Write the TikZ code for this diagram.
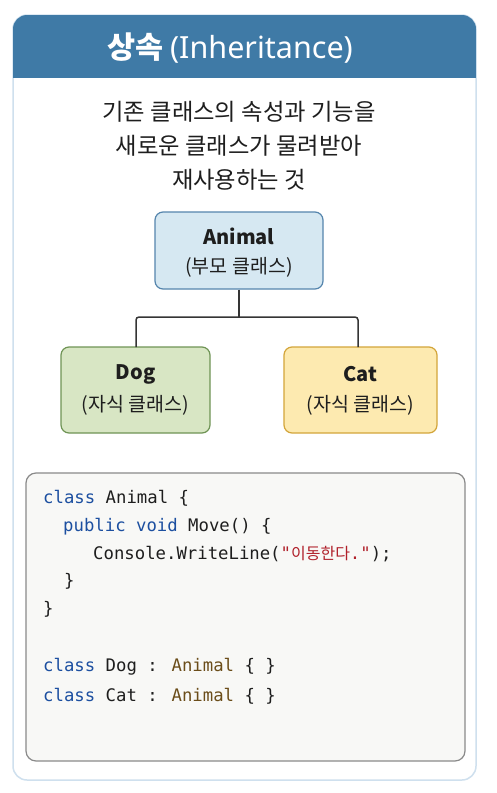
\documentclass[tikz,border=0pt]{standalone}
\usepackage{fontspec}
\setmainfont{Noto Sans CJK KR}
\newfontfamily\codefont{DejaVu Sans Mono}
\newfontfamily\krfont{Noto Sans CJK KR}
\newfontfamily\latfont{Noto Sans}
\definecolor{hdrblue}{HTML}{3F7AA6}
\definecolor{cardedge}{HTML}{CFE0EE}
\definecolor{txtdark}{HTML}{1E1E1E}
\definecolor{afill}{HTML}{D6E8F2}
\definecolor{aedge}{HTML}{5585AD}
\definecolor{dfill}{HTML}{D8E6C4}
\definecolor{dedge}{HTML}{6F9455}
\definecolor{cfill}{HTML}{FDEAB0}
\definecolor{cedge}{HTML}{D3A53A}
\definecolor{codebg}{HTML}{F8F8F6}
\definecolor{codeedge}{HTML}{8A8A8A}
\definecolor{kw}{HTML}{1C4FA0}
\definecolor{typ}{HTML}{6B4D1A}
\definecolor{strc}{HTML}{B0202A}
\begin{document}
\begin{tikzpicture}[x=1pt,y=-1pt,
  classbox/.style={draw, line width=1.2pt, rounded corners=8pt, inner sep=0pt},
  conn/.style={draw=txtdark!90, line width=1.5pt, rounded corners=3pt},
  boxtitle/.style={font=\bfseries\fontsize{20}{24}\selectfont, text=txtdark},
  boxsub/.style={font=\fontsize{19.5}{23}\selectfont, text=txtdark},
  subtxt/.style={font=\fontsize{23.3}{28}\selectfont, text=txtdark},
  codeline/.style={anchor=base west, inner sep=0pt, font=\codefont\fontsize{17.3}{21}\selectfont, text=txtdark}
]
\useasboundingbox (0,0) rectangle (496,793);
\fill[white] (0,0) rectangle (496,793);
% card
\path[fill=white, draw=cardedge, line width=1.5pt, rounded corners=14pt] (13,15) rectangle (476,780);
\begin{scope}
  \clip[rounded corners=14pt] (13,15) rectangle (476,780);
  \fill[hdrblue] (13,15) rectangle (476,78);
\end{scope}
\node[text=white, font=\fontsize{30.5}{36}\selectfont] (title) at (230,48) {\textbf{상속} {\latfont (Inheritance)}};
% subtitle
\node[subtxt] (sub1) at (239,112) {기존 클래스의 속성과 기능을};
\node[subtxt] (sub2) at (239,146) {새로운 클래스가 물려받아};
\node[subtxt] (sub3) at (239,180) {재사용하는 것};
% class boxes
\node[classbox, fill=afill, draw=aedge, minimum width=168pt, minimum height=77pt] (animal) at (239,250.5) {};
\node[boxtitle] (animalT) at (239,236) {Animal};
\node[boxsub] (animalS) at (239,267) {(부모 클래스)};

\node[classbox, fill=dfill, draw=dedge, minimum width=149pt, minimum height=86pt] (dog) at (135.5,390) {};
\node[boxtitle] (dogT) at (135.5,374) {Dog};
\node[boxsub] (dogS) at (135.5,405) {(자식 클래스)};

\node[classbox, fill=cfill, draw=cedge, minimum width=153pt, minimum height=86pt] (cat) at (360.5,390) {};
\node[boxtitle] (catT) at (360.5,374) {Cat};
\node[boxsub] (catS) at (360.5,405) {(자식 클래스)};

% connectors
\coordinate (j) at (239,317);
\coordinate (dtop) at (136,347);
\coordinate (ctop) at (358,347);
\draw[conn] (animal.south) -- (j);
\draw[conn] (dtop) |- (j) -| (ctop);

% code box
\path[fill=codebg, draw=codeedge, line width=1.2pt, rounded corners=10pt] (26,473) rectangle (465,761);
\node[codeline] (c1) at (43,503) {\textcolor{kw}{class} Animal \{};
\node[codeline] (c2) at (63,531) {\textcolor{kw}{public} \textcolor{kw}{void} Move() \{};
\node[codeline] (c3) at (93,559) {Console.WriteLine(\textcolor{strc}{"{\krfont\fontsize{16}{20}\selectfont 이동한다}."});};
\node[codeline] (c4) at (64,586) {\}};
\node[codeline] (c5) at (43,614) {\}};
\node[codeline] (c6) at (43,671) {\textcolor{kw}{class} Dog : \textcolor{typ}{Animal} \{ \}};
\node[codeline] (c7) at (43,701) {\textcolor{kw}{class} Cat : \textcolor{typ}{Animal} \{ \}};
\end{tikzpicture}
\end{document}
